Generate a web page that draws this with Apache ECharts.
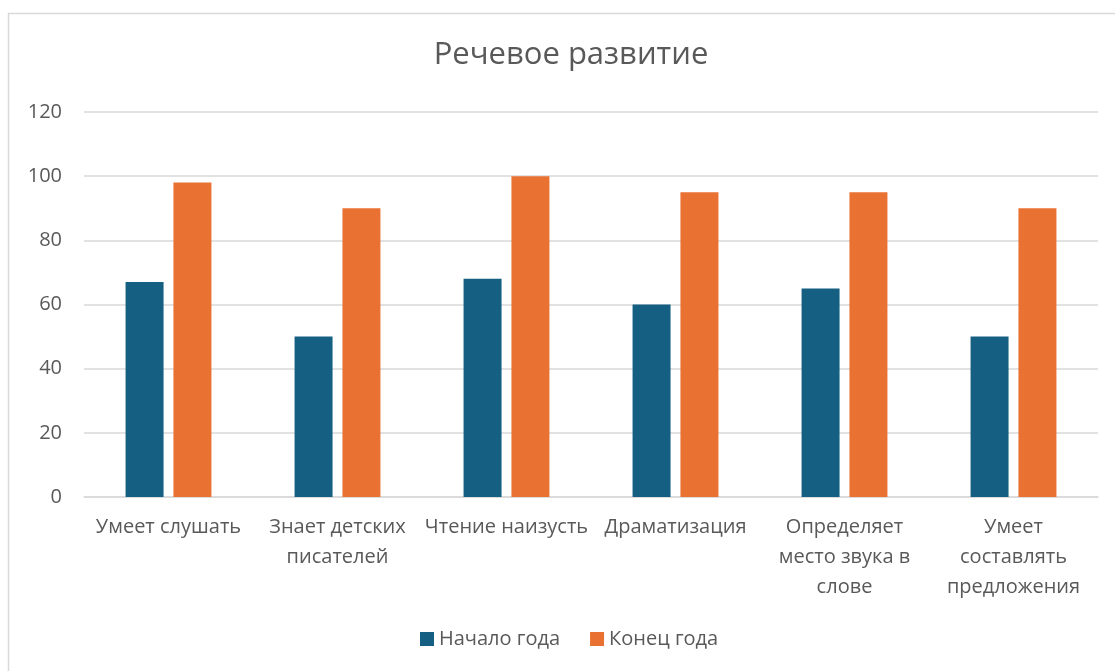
<!DOCTYPE html>
<html>
<head>
<meta charset="utf-8">
<script src="https://cdn.jsdelivr.net/npm/echarts@6/dist/echarts.min.js"></script>
<style>
  html, body { margin: 0; padding: 0; background: #fff; }
  #chart { width: 1115px; height: 671px; }
</style>
</head>
<body>
<div id="chart"></div>
<script>
    // данные диаграммы
    var categories = ['Умеет слушать', 'Знает детских\nписателей', 'Чтение наизусть', 'Драматизация',
                      'Определяет\nместо звука в\nслове', 'Умеет\nсоставлять\nпредложения'];
    var startYear = [67, 50, 68, 60, 65, 50];     // Начало года
    var endYear = [98, 90, 100, 95, 95, 90];      // Конец года

    var myChart = echarts.init(document.getElementById('chart'));
    var font = '"Open Sans", "Noto Sans", sans-serif';

    var option = {
        animation: false,
        textStyle: { fontFamily: font },
        title: {
            text: 'Речевое развитие',
            left: 566,
            top: 35,
            textAlign: 'center',
            textStyle: { fontSize: 31, fontWeight: 'normal', color: '#595959', fontFamily: font }
        },
        graphic: [{
            type: 'rect',
            shape: { x: 8.5, y: 13.5, width: 1130, height: 680 },
            style: { fill: 'none', stroke: '#d9d9d9', lineWidth: 1.5 },
            silent: true
        }],
        legend: {
            top: 624,
            left: 415,
            itemWidth: 14,
            itemHeight: 14,
            itemGap: 30,
            icon: 'rect',
            textStyle: { fontSize: 20, color: '#595959', fontFamily: font },
            data: ['Начало года', 'Конец года']
        },
        grid: { left: 84, right: 17, top: 112, bottom: 174 },
        xAxis: {
            type: 'category',
            data: categories,
            axisLine: { lineStyle: { color: '#d9d9d9', width: 1.5 } },
            axisTick: { show: false },
            axisLabel: { color: '#595959', fontSize: 20, margin: 15, lineHeight: 30, interval: 0, fontFamily: font }
        },
        yAxis: {
            type: 'value',
            min: 0,
            max: 120,
            interval: 20,
            axisLine: { show: false },
            axisTick: { show: false },
            splitLine: { lineStyle: { color: '#d9d9d9', width: 1.5 } },
            axisLabel: { color: '#595959', fontSize: 20, margin: 22, fontFamily: font }
        },
        series: [
            {
                name: 'Начало года',
                type: 'bar',
                data: startYear,
                barWidth: 38,
                barGap: '26%',
                itemStyle: { color: '#156082' }
            },
            {
                name: 'Конец года',
                type: 'bar',
                data: endYear,
                barWidth: 38,
                barGap: '26%',
                itemStyle: { color: '#E97132' }
            }
        ]
    };

    myChart.setOption(option);
</script>
</body>
</html>
